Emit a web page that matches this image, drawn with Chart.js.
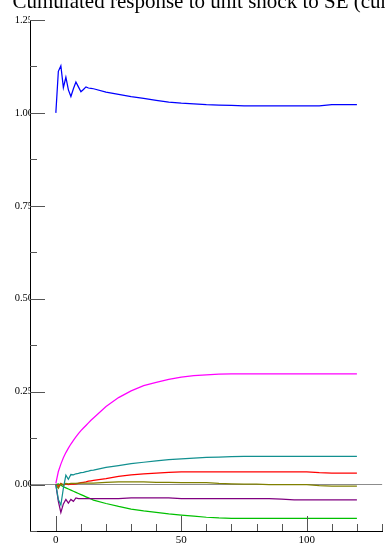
<!DOCTYPE html>
<html>
<head>
<meta charset="utf-8">
<script src="https://cdn.jsdelivr.net/npm/chart.js@4.4.1/dist/chart.umd.min.js"></script>
<style>
html,body{margin:0;padding:0;background:#fff;}
#wrap{width:385px;height:545px;position:relative;overflow:hidden;}
</style>
</head>
<body>
<div id="wrap"><canvas id="irf" width="385" height="545"></canvas></div>
<script>
const titleText = 'Cumulated response to unit shock to SE (cumulated)';
const periods = [0,1,2,3,4,5,6,7,8,9,10,11,12,13,14,15,20,25,30,35,40,45,50,55,60,65,70,75,80,85,90,95,100,105,110,115,120];

// cumulated responses
const seBlue   = [1.000,1.112,1.127,1.068,1.096,1.062,1.044,1.065,1.083,1.070,1.057,1.063,1.070,1.067,1.066,1.065,1.056,1.050,1.044,1.039,1.034,1.029,1.026,1.024,1.022,1.021,1.020,1.019,1.019,1.019,1.019,1.019,1.019,1.019,1.022,1.022,1.022];
const magenta  = [0.003,0.035,0.055,0.072,0.086,0.098,0.109,0.119,0.128,0.137,0.145,0.152,0.159,0.166,0.173,0.179,0.210,0.234,0.252,0.266,0.275,0.283,0.289,0.293,0.295,0.297,0.298,0.298,0.298,0.298,0.298,0.298,0.298,0.298,0.298,0.298,0.298];
const teal     = [0.000,-0.040,-0.055,-0.010,0.025,0.014,0.027,0.026,0.029,0.030,0.032,0.033,0.035,0.036,0.038,0.039,0.046,0.051,0.056,0.060,0.064,0.067,0.069,0.071,0.073,0.074,0.075,0.076,0.076,0.076,0.076,0.076,0.076,0.076,0.076,0.076,0.076];
const red      = [0.000,-0.005,0.003,-0.002,0.002,0.000,0.001,0.001,0.002,0.003,0.005,0.006,0.007,0.009,0.010,0.011,0.016,0.022,0.026,0.029,0.031,0.033,0.034,0.034,0.034,0.034,0.034,0.034,0.034,0.034,0.034,0.034,0.034,0.032,0.031,0.031,0.031];
const olive    = [0.000,-0.010,0.002,0.000,0.003,0.002,0.003,0.003,0.003,0.004,0.004,0.004,0.004,0.004,0.004,0.004,0.006,0.007,0.007,0.007,0.006,0.006,0.005,0.005,0.005,0.003,0.002,0.001,0.001,0.000,0.000,0.000,0.000,-0.003,-0.004,-0.004,-0.004];
const purple   = [0.000,-0.045,-0.075,-0.052,-0.040,-0.050,-0.040,-0.045,-0.036,-0.038,-0.038,-0.038,-0.038,-0.038,-0.038,-0.038,-0.038,-0.038,-0.036,-0.036,-0.036,-0.036,-0.038,-0.038,-0.038,-0.038,-0.038,-0.038,-0.038,-0.038,-0.039,-0.041,-0.041,-0.041,-0.041,-0.041,-0.041];
const green    = [0.000,0.002,-0.002,-0.006,-0.009,-0.012,-0.015,-0.018,-0.021,-0.024,-0.027,-0.030,-0.033,-0.036,-0.039,-0.042,-0.051,-0.059,-0.066,-0.071,-0.075,-0.079,-0.082,-0.085,-0.088,-0.090,-0.091,-0.091,-0.091,-0.091,-0.091,-0.091,-0.091,-0.091,-0.091,-0.091,-0.091];

const seriesList = [
  {label:'SE', vals:seBlue, color:'#0000ff'},
  {label:'resp 2', vals:magenta, color:'#ff00ff'},
  {label:'resp 3', vals:teal, color:'#129090'},
  {label:'resp 5', vals:olive, color:'#808000'},
  {label:'resp 4', vals:red, color:'#ff0000'},
  {label:'resp 6', vals:purple, color:'#800080'},
  {label:'resp 7', vals:green, color:'#00c000'}
];

const serif = "'Liberation Serif','Times New Roman',serif";
const isMajorY = v => Math.abs(v/0.25 - Math.round(v/0.25)) < 1e-6;

// inward tick marks, long on labelled values
const tickMarks = {
  id:'tickMarks',
  afterDraw(chart){
    const {ctx, chartArea:a, scales:{x,y}} = chart;
    ctx.save();ctx.strokeStyle='#555';ctx.lineWidth=1;ctx.beginPath();
    for(const t of y.ticks){const py=Math.round(y.getPixelForValue(t.value))+0.5;const len=isMajorY(t.value)?15:7;ctx.moveTo(a.left,py);ctx.lineTo(a.left+len,py);}
    for(const t of x.ticks){if(t.value<0)continue;const px=Math.round(x.getPixelForValue(t.value))+0.5;const len=t.value%50===0?15:7;ctx.moveTo(px,a.bottom);ctx.lineTo(px,a.bottom-len);}
    ctx.stroke();ctx.restore();
  }
};
const topTitle = {
  id:'topTitle',
  afterDraw(chart){const ctx=chart.ctx;ctx.save();ctx.font=`21px ${serif}`;ctx.fillStyle='#000';ctx.textAlign='left';ctx.textBaseline='alphabetic';ctx.fillText(titleText,12.5,8);ctx.restore();}
};

new Chart(document.getElementById('irf'),{
  type:'line',
  data:{datasets:seriesList.map(s=>({label:s.label,data:periods.map((p,i)=>({x:p,y:s.vals[i]})),borderColor:s.color,borderWidth:1.25,pointRadius:0,tension:0,fill:false}))},
  options:{
    responsive:false,animation:false,
    layout:{padding:{top:20,left:0,right:0,bottom:0}},
    plugins:{legend:{display:false},tooltip:{enabled:false},title:{display:false}},
    scales:{
      x:{type:'linear',min:-10.3,max:130.05,
        afterFit(s){s.height=14;},
        border:{display:true,color:'#000',width:1},
        grid:{display:false,drawTicks:false},
        ticks:{stepSize:10,includeBounds:false,autoSkip:false,maxRotation:0,padding:3,color:'#000',font:{family:serif,size:11},callback:v=>v%50===0?String(v):''}},
      y:{type:'linear',min:-0.125,max:1.25,
        afterFit(s){s.width=30;},
        border:{display:true,color:'#000',width:1},
        grid:{drawTicks:false,tickLength:0,lineWidth:1,color:c=>c.tick&&Math.abs(c.tick.value)<1e-9?'#8c8c8c':'rgba(0,0,0,0)'},
        ticks:{stepSize:0.125,autoSkip:false,padding:-3,color:'#000',font:{family:serif,size:10.5},callback:v=>isMajorY(v)?v.toFixed(2):''}}
    }
  },
  plugins:[tickMarks,topTitle]
});
</script>
</body>
</html>
